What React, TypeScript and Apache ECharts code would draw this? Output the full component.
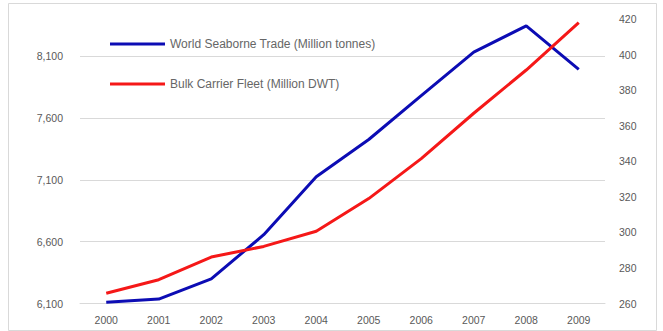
import React, { useEffect, useRef } from "react";
import * as echarts from "echarts";

const years = ["2000", "2001", "2002", "2003", "2004", "2005", "2006", "2007", "2008", "2009"];
const seaborneTrade = [6110, 6136, 6299, 6656, 7124, 7426, 7780, 8132, 8345, 7993];
const bulkFleet = [265.8, 273.4, 286.1, 292.1, 300.6, 319, 341.5, 367, 391.3, 418];

const tradeName = "World Seaborne Trade (Million tonnes)";
const fleetName = "Bulk Carrier Fleet (Million DWT)";

const leftMin = 6100;
const leftMax = 8400;
const leftStep = 500;
const rightMin = 260;
const rightMax = 420;
const rightStep = 20;

const textColor = "#595959";
const gridColor = "#d9d9d9";
const font = "Liberation Sans, Arial, sans-serif";

export default function App() {
  const ref = useRef<HTMLDivElement>(null);

  useEffect(() => {
    if (!ref.current) return;
    const chart = echarts.init(ref.current, undefined, { renderer: "svg" });

    // split lines for the left axis: every tick except the top extent
    const leftTickCount = Math.floor((leftMax - leftMin) / leftStep) + 1;
    const splitColors = Array.from({ length: leftTickCount }, () => gridColor);
    splitColors.push("rgba(0,0,0,0)");

    chart.setOption({
      animation: false,
      backgroundColor: "#ffffff",
      textStyle: { fontFamily: font },
      graphic: [
        {
          type: "rect",
          shape: { x: 8.5, y: 3.5, width: 648, height: 327 },
          style: { fill: "none", stroke: gridColor, lineWidth: 1 },
          silent: true,
        },
      ],
      grid: { left: 80, right: 58, top: 19, bottom: 27.5 },
      legend: {
        orient: "vertical",
        left: 105,
        top: 33,
        icon: "rect",
        itemWidth: 55,
        itemHeight: 3,
        itemGap: 28,
        textStyle: { color: "#666666", fontSize: 12, fontFamily: font },
        data: [tradeName, fleetName],
      },
      xAxis: {
        type: "category",
        data: years,
        boundaryGap: true,
        axisLine: { show: true, lineStyle: { color: gridColor, width: 1 } },
        axisTick: { show: false },
        axisLabel: { color: textColor, fontSize: 10.5, margin: 11 },
      },
      yAxis: [
        {
          type: "value",
          min: leftMin,
          max: leftMax,
          interval: leftStep,
          position: "left",
          axisLine: { show: false },
          axisTick: { show: false },
          axisLabel: {
            color: textColor,
            fontSize: 10.5,
            margin: 17,
            showMaxLabel: false,
            formatter: (v: number) => v.toLocaleString("en-US"),
          },
          splitLine: { show: true, lineStyle: { color: splitColors, width: 1 } },
        },
        {
          type: "value",
          min: rightMin,
          max: rightMax,
          interval: rightStep,
          position: "right",
          axisLine: { show: false },
          axisTick: { show: false },
          axisLabel: { color: textColor, fontSize: 10.5, margin: 14 },
          splitLine: { show: false },
        },
      ],
      series: [
        {
          name: tradeName,
          type: "line",
          yAxisIndex: 0,
          data: seaborneTrade,
          symbol: "none",
          lineStyle: { color: "#0c0cb4", width: 3 },
          itemStyle: { color: "#0c0cb4" },
        },
        {
          name: fleetName,
          type: "line",
          yAxisIndex: 1,
          data: bulkFleet,
          symbol: "none",
          lineStyle: { color: "#f51818", width: 3 },
          itemStyle: { color: "#f51818" },
        },
      ],
    });

    return () => chart.dispose();
  }, []);

  return (
    <div
      ref={ref}
      style={{ position: "fixed", left: 0, top: 0, width: 663, height: 331 }}
    />
  );
}
